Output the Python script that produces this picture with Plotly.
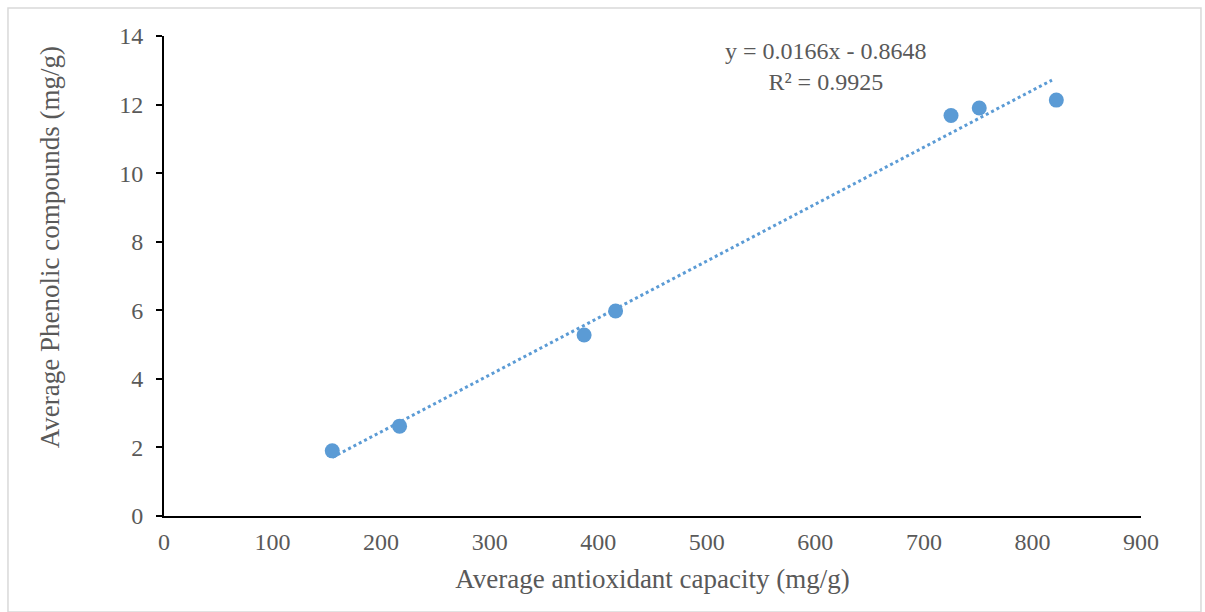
import numpy as np
import plotly.graph_objects as go

# Data
antioxidant = [155, 217, 387, 416, 725, 751, 822]
phenolic = [1.90, 2.62, 5.28, 5.98, 11.68, 11.90, 12.13]
slope = 0.0166
intercept = -0.8648
r2 = 0.9925
x_ticks = [0, 100, 200, 300, 400, 500, 600, 700, 800, 900]
y_ticks = [0, 2, 4, 6, 8, 10, 12, 14]

trend_x = np.array([min(antioxidant), max(antioxidant) - 4])
trend_y = slope * trend_x + intercept

blue = "#5b9bd5"
grey = "#595959"
font = "Liberation Serif, Times New Roman, serif"

fig = go.Figure()
fig.add_trace(go.Scatter(x=trend_x, y=trend_y, mode="lines",
                         line=dict(color=blue, width=3, dash="dot"),
                         showlegend=False, hoverinfo="skip"))
fig.add_trace(go.Scatter(x=antioxidant, y=phenolic, mode="markers",
                         marker=dict(color=blue, size=15),
                         showlegend=False))

fig.add_annotation(x=610, y=13.1, xref="x", yref="y",
                   text=f"y = {slope}x - {abs(intercept)}<br>R² = {r2}",
                   showarrow=False, align="center",
                   font=dict(family=font, size=24, color=grey))

# y-axis title (centred on the chart area, as in the reference)
fig.add_annotation(x=-0.1167, y=0.56, xref="paper", yref="paper",
                   text="Average Phenolic compounds (mg/g)", textangle=-90,
                   showarrow=False, xanchor="center", yanchor="middle",
                   font=dict(family=font, size=27, color=grey))

fig.add_shape(type="rect", xref="paper", yref="paper",
              x0=-0.1597, x1=1.0614, y0=-0.2, y1=1.0583,
              line=dict(color="#d9d9d9", width=1.5), fillcolor="rgba(0,0,0,0)",
              layer="below")

fig.update_layout(
    width=1205, height=612,
    margin=dict(l=164, r=64, t=36, b=96),
    paper_bgcolor="white", plot_bgcolor="white",
    font=dict(family=font, color=grey),
    xaxis=dict(range=[0, 900], tickvals=x_ticks, showgrid=False, zeroline=False,
               showline=True, linecolor="black", linewidth=2,
               ticks="", tickfont=dict(size=24, color=grey), ticklabelstandoff=3,
               title=dict(text="Average antioxidant capacity (mg/g)",
                          font=dict(size=27, color=grey), standoff=15)),
    yaxis=dict(range=[0, 14], tickvals=y_ticks, showgrid=False, zeroline=False,
               showline=True, linecolor="black", linewidth=2,
               ticks="outside", ticklen=6, tickcolor="black", tickwidth=2,
               tickfont=dict(size=24, color=grey), ticklabelstandoff=8),
)

fig.write_html("out.html")
